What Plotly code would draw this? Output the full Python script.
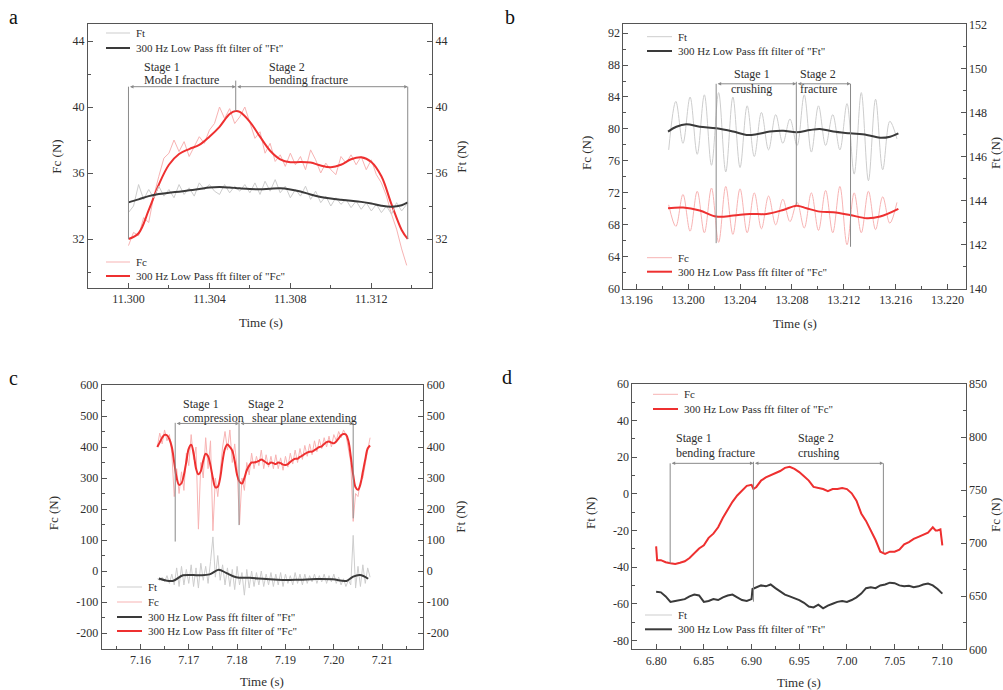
import plotly.graph_objects as go

W, H = 1003, 690
SERIF = "Liberation Serif"
TXT = "#2e2e2e"
AXC = "#555555"
RED = "#ee3030"
DARK = "#3a3a3a"
GRAY_RAW = "#cdcdcd"
PINK_RAW = "#f7b3b3"
ANN = "#8a8a8a"

# ---------------- Panel a ----------------
T_A_FILT = [11.3000, 11.3005, 11.3010, 11.3015, 11.3020, 11.3025, 11.3030, 11.3035, 11.3040, 11.3045,
            11.3050, 11.3053, 11.3055, 11.3060, 11.3065, 11.3070, 11.3075, 11.3080, 11.3085, 11.3090,
            11.3095, 11.3100, 11.3105, 11.3110, 11.3115, 11.3120, 11.3125, 11.3130, 11.3135, 11.3138]
FC_A_FILT = [32.0, 32.35, 33.75, 35.3, 36.5, 37.15, 37.45, 37.7, 38.2, 38.8,
             39.58, 39.76, 39.7, 39.1, 38.2, 37.35, 36.83, 36.65, 36.67, 36.63,
             36.45, 36.35, 36.5, 36.83, 36.95, 36.67, 35.8, 34.1, 32.55, 32.0]
FT_A_FILT = [34.22, 34.4, 34.6, 34.73, 34.8, 34.87, 34.95, 35.03, 35.12, 35.15,
             35.12, 35.09, 35.07, 35.03, 35.02, 35.05, 35.07, 35.0, 34.88, 34.7,
             34.55, 34.45, 34.38, 34.32, 34.25, 34.15, 34.02, 33.96, 34.05, 34.22]
T_A_RAW = [11.30000, 11.30025, 11.30050, 11.30075, 11.30100, 11.30125, 11.30150, 11.30175, 11.30200, 11.30225,
           11.30250, 11.30275, 11.30300, 11.30325, 11.30350, 11.30375, 11.30400, 11.30425, 11.30450, 11.30475,
           11.30500, 11.30525, 11.30550, 11.30575, 11.30600, 11.30625, 11.30650, 11.30675, 11.30700, 11.30725,
           11.30750, 11.30775, 11.30800, 11.30825, 11.30850, 11.30875, 11.30900, 11.30925, 11.30950, 11.30975,
           11.31000, 11.31025, 11.31050, 11.31075, 11.31100, 11.31125, 11.31150, 11.31175, 11.31200, 11.31225,
           11.31250, 11.31275, 11.31300, 11.31325, 11.31350, 11.31375]
FC_A_RAW = [31.6, 32.4, 32.2, 33.3, 33.0, 34.6, 35.8, 36.9, 37.2, 38.0,
            37.3, 37.9, 37.0, 37.6, 38.2, 37.8, 38.6, 39.0, 40.0, 39.3,
            39.9, 39.0, 39.4, 40.0, 39.0, 38.1, 38.5, 37.2, 37.8, 36.7,
            37.1, 36.4, 37.2, 36.5, 37.0, 36.2, 37.4, 36.8, 36.0, 36.6,
            36.2, 35.9, 37.0, 36.6, 37.1, 36.5, 37.0, 36.2, 36.8, 35.9,
            35.4, 34.6, 33.5, 32.6, 31.4, 30.4]
FT_A_RAW = [33.6, 34.0, 35.3, 34.4, 35.0, 34.5, 35.2, 34.6, 35.0, 34.5,
            35.3, 34.7, 35.1, 34.6, 35.4, 35.0, 35.3, 34.9, 34.7, 35.3,
            34.8, 35.2, 34.9, 35.3, 34.8, 35.4, 34.7, 35.5, 34.9, 35.6,
            34.8, 35.2, 34.5, 35.0, 34.6, 35.2, 34.4, 34.9, 34.2, 34.6,
            34.0, 34.5, 34.1, 34.4, 33.9, 34.3, 33.8, 34.2, 33.7, 34.1,
            33.6, 34.0, 33.5, 34.2, 33.7, 34.1]

# ---------------- Panel b ----------------
T_B_FT_FILT = [13.19845, 13.19909, 13.19986, 13.20089, 13.20218, 13.20347, 13.20450, 13.20527, 13.20630, 13.20733,
               13.20836, 13.20939, 13.21016, 13.21119, 13.21248, 13.21377, 13.21480, 13.21557, 13.21621]
FT_B_FILT = [147.13, 147.35, 147.46, 147.35, 147.28, 147.13, 146.98, 147.01, 147.13, 147.17,
             147.10, 147.20, 147.25, 147.13, 147.05, 146.98, 146.85, 146.90, 147.05]
T_B_FC_FILT = [13.19845, 13.19961, 13.20089, 13.20218, 13.20347, 13.20476, 13.20604, 13.20733, 13.20836, 13.20913,
               13.21016, 13.21119, 13.21248, 13.21377, 13.21480, 13.21621]
FC_B_FILT = [70.07, 70.15, 69.78, 69.03, 69.15, 69.36, 69.36, 69.86, 70.40, 70.07,
             69.65, 69.57, 69.23, 68.82, 69.03, 69.99]
T_B_RAW = [13.19850, 13.19905, 13.19960, 13.20015, 13.20070, 13.20125, 13.20180, 13.20235, 13.20290, 13.20345,
           13.20400, 13.20455, 13.20510, 13.20565, 13.20620, 13.20675, 13.20730, 13.20785, 13.20840, 13.20895,
           13.20950, 13.21005, 13.21060, 13.21115, 13.21170, 13.21225, 13.21280, 13.21335, 13.21390, 13.21445,
           13.21500, 13.21555, 13.21610]
FT_B_RAW = [146.3, 148.5, 146.6, 148.7, 146.1, 148.8, 145.6, 148.9, 145.3, 148.7,
            145.5, 148.3, 146.0, 148.0, 146.3, 147.9, 146.6, 147.7, 146.5, 148.8,
            146.2, 148.3, 146.5, 147.9, 146.3, 148.4, 145.2, 148.9, 144.9, 148.6,
            145.4, 147.6, 146.8]
FC_B_RAW = [70.5, 67.8, 71.8, 67.2, 72.2, 67.0, 72.6, 65.8, 72.8, 66.8,
            72.5, 67.0, 72.0, 67.5, 71.6, 68.0, 71.2, 68.4, 70.8, 67.6,
            72.0, 67.3, 72.3, 67.0, 72.8, 65.5, 72.0, 67.0, 72.2, 67.4,
            71.5, 68.2, 70.8]

# ---------------- Panel c ----------------
T_C = [7.1635, 7.1640, 7.1645, 7.1650, 7.1655, 7.1660, 7.1665, 7.1670, 7.1675, 7.1680,
       7.1685, 7.1690, 7.1695, 7.1700, 7.1705, 7.1710, 7.1715, 7.1720, 7.1725, 7.1730,
       7.1735, 7.1740, 7.1745, 7.1750, 7.1755, 7.1760, 7.1765, 7.1770, 7.1775, 7.1780,
       7.1785, 7.1790, 7.1795, 7.1800, 7.1805, 7.1810, 7.1815, 7.1820, 7.1825, 7.1830,
       7.1835, 7.1840, 7.1845, 7.1850, 7.1855, 7.1860, 7.1865, 7.1870, 7.1875, 7.1880,
       7.1885, 7.1890, 7.1895, 7.1900, 7.1905, 7.1910, 7.1915, 7.1920, 7.1925, 7.1930,
       7.1935, 7.1940, 7.1945, 7.1950, 7.1955, 7.1960, 7.1965, 7.1970, 7.1975, 7.1980,
       7.1985, 7.1990, 7.1995, 7.2000, 7.2005, 7.2010, 7.2015, 7.2020, 7.2025, 7.2030,
       7.2035, 7.2040, 7.2045, 7.2050, 7.2055, 7.2060, 7.2065, 7.2070, 7.2075]
FC_C_FILT = [400, 415, 430, 439, 438, 425, 400, 350, 300, 278,
             283, 310, 353, 395, 407, 380, 331, 312, 322, 356,
             378, 370, 340, 299, 270, 272, 300, 355, 395, 408,
             400, 388, 355, 310, 288, 282, 300, 325, 340, 350,
             350, 352, 355, 360, 355, 350, 345, 350, 348, 345,
             350, 348, 343, 342, 345, 352, 358, 362, 362, 368,
             372, 378, 382, 385, 385, 390, 395, 400, 402, 410,
             416, 418, 414, 412, 418, 428, 438, 442, 440, 420,
             370, 310, 270, 262, 280, 320, 360, 395, 405]
FC_C_RAW = [400, 445, 410, 455, 420, 440, 380, 240, 330, 250,
            320, 260, 380, 340, 440, 360, 400, 135, 350, 300,
            430, 330, 420, 130, 300, 240, 320, 400, 450, 390,
            455, 350, 410, 330, 150, 300, 260, 350, 310, 380,
            330, 370, 340, 390, 330, 375, 335, 370, 330, 375,
            330, 365, 325, 370, 335, 380, 345, 390, 350, 395,
            360, 405, 370, 410, 375, 420, 385, 425, 395, 430,
            400, 435, 400, 440, 420, 450, 430, 455, 440, 400,
            350, 160, 250, 240, 290, 300, 350, 390, 430]
FT_C_RAW = [-25, -30, -20, -35, -15, -40, -10, -45, 10, -50,
            15, -45, 5, -40, 20, -50, 10, -55, 25, -30,
            15, -40, 30, 110, -20, 50, -30, 20, -45, 10,
            -50, 5, -60, 15, -45, -5, -78, 5, -55, 0,
            -50, -5, -45, 0, -50, -10, -45, -5, -50, -10,
            -45, -5, -50, -10, -40, -15, -45, -5, -40, -10,
            -45, -10, -40, -15, -35, -10, -40, -15, -35, -10,
            -40, -15, -35, -10, -40, -20, -45, -25, -50, -30,
            -45, 115, -55, 15, -50, 20, -40, 10, -20]
T_C_FT_FILT = [7.1638, 7.1667, 7.1688, 7.1722, 7.1743, 7.1762, 7.1777, 7.1798, 7.1826, 7.1860,
               7.1895, 7.1929, 7.1964, 7.1998, 7.2026, 7.2040, 7.2054, 7.2071]
FT_C_FILT = [-24, -32, -14, -14, -11, 4, -6, -20, -22, -26,
             -29, -28, -26, -27, -32, -18, -13, -25]

# ---------------- Panel d ----------------
T_D_FC = [6.800, 6.801, 6.805, 6.810, 6.815, 6.820, 6.825, 6.830, 6.835, 6.840,
          6.845, 6.850, 6.855, 6.860, 6.865, 6.870, 6.875, 6.880, 6.885, 6.890,
          6.895, 6.900, 6.902, 6.905, 6.910, 6.915, 6.920, 6.925, 6.930, 6.935,
          6.940, 6.945, 6.950, 6.955, 6.960, 6.965, 6.970, 6.975, 6.980, 6.985,
          6.990, 6.995, 7.000, 7.005, 7.010, 7.015, 7.020, 7.025, 7.030, 7.035,
          7.040, 7.045, 7.050, 7.055, 7.060, 7.065, 7.070, 7.075, 7.080, 7.085,
          7.090, 7.093, 7.095, 7.098, 7.100]
FC_D = [697, 684, 684, 682, 681, 680.5, 681.5, 683, 686, 691,
        695, 698, 705, 709, 715, 724, 732, 739, 745, 750,
        754, 755, 751, 753, 759, 762, 764, 765.5, 768, 771,
        772, 770, 767, 763, 759, 753, 752, 751, 749, 751,
        751, 752, 751, 747, 740, 728, 721, 712, 703, 692,
        690, 692, 692, 694, 699, 701, 704, 706, 708, 710,
        715, 712, 712, 713, 698]
T_D_FT = [6.800, 6.805, 6.810, 6.815, 6.820, 6.825, 6.830, 6.835, 6.840, 6.845,
          6.850, 6.855, 6.860, 6.865, 6.870, 6.875, 6.880, 6.885, 6.890, 6.895,
          6.900, 6.901, 6.905, 6.910, 6.915, 6.920, 6.925, 6.930, 6.935, 6.940,
          6.945, 6.950, 6.955, 6.960, 6.965, 6.970, 6.975, 6.980, 6.985, 6.990,
          6.995, 7.000, 7.005, 7.010, 7.015, 7.020, 7.025, 7.030, 7.035, 7.040,
          7.045, 7.050, 7.055, 7.060, 7.065, 7.070, 7.075, 7.080, 7.085, 7.090,
          7.095, 7.100]
FT_D = [-53.5, -53.8, -56, -59, -58.5, -58, -57.5, -56, -55, -55.5,
        -59, -58.5, -57.5, -58, -56.5, -55.5, -55, -56.5, -58, -58.5,
        -57.5, -52, -51, -50, -50.5, -49.5, -51.5, -53.5, -55, -56,
        -57, -58, -59.5, -61.5, -62, -60.5, -62.5, -61, -60, -59,
        -58.5, -59, -58, -56.5, -54.5, -51.5, -51, -51.5, -50, -49.5,
        -48.5, -48.8, -50, -50.5, -50.2, -51, -50.5, -49.5, -49, -50,
        -52, -54.5]

LEG_FT = "Ft"
LEG_FC = "Fc"
LEG_FT_F = '300 Hz Low Pass fft filter of "Ft"'
LEG_FC_F = '300 Hz Low Pass fft filter of "Fc"'

fig = go.Figure()


def add(x, y, xa, ya, color, width, name, shape="spline"):
    fig.add_trace(go.Scatter(x=x, y=y, xaxis=xa, yaxis=ya, mode="lines", name=name,
                             line=dict(color=color, width=width, shape=shape),
                             showlegend=False, hoverinfo="skip"))


# a
add(T_A_RAW, FC_A_RAW, "x", "y", PINK_RAW, 1, LEG_FC, "linear")
add(T_A_RAW, FT_A_RAW, "x", "y2", GRAY_RAW, 1, LEG_FT, "linear")
add(T_A_FILT, FT_A_FILT, "x", "y2", DARK, 2, LEG_FT_F)
add(T_A_FILT, FC_A_FILT, "x", "y", RED, 2, LEG_FC_F)
# b
add(T_B_RAW, FC_B_RAW, "x2", "y3", PINK_RAW, 1, LEG_FC)
add(T_B_FC_FILT, FC_B_FILT, "x2", "y3", RED, 2, LEG_FC_F)
add(T_B_RAW, FT_B_RAW, "x2", "y4", GRAY_RAW, 1, LEG_FT)
add(T_B_FT_FILT, FT_B_FILT, "x2", "y4", DARK, 2, LEG_FT_F)
# c
add(T_C, FC_C_RAW, "x3", "y5", PINK_RAW, 1, LEG_FC, "linear")
add(T_C, FC_C_FILT, "x3", "y5", RED, 2, LEG_FC_F)
add(T_C, FT_C_RAW, "x3", "y6", GRAY_RAW, 1, LEG_FT, "linear")
add(T_C_FT_FILT, FT_C_FILT, "x3", "y6", DARK, 2, LEG_FT_F)
# d
add(T_D_FT, FT_D, "x4", "y7", GRAY_RAW, 1, LEG_FT, "linear")
add(T_D_FT, FT_D, "x4", "y7", DARK, 2, LEG_FT_F, "linear")
add(T_D_FC, FC_D, "x4", "y8", PINK_RAW, 1, LEG_FC, "linear")
add(T_D_FC, FC_D, "x4", "y8", RED, 2, LEG_FC_F, "linear")

TICKFONT = dict(family=SERIF, size=12, color=TXT)


def px(x):
    return x / W


def py(y):
    return 1 - y / H


def xaxis(dom, anchor, rng, tick0, dtick, fmt, mdtick):
    return dict(domain=dom, anchor=anchor, range=rng, tick0=tick0, dtick=dtick, tickformat=fmt,
                showline=True, mirror=True, linecolor=AXC, linewidth=1, ticks="inside", ticklen=5,
                tickcolor=AXC, tickfont=TICKFONT, showgrid=False, zeroline=False, automargin=False,
                minor=dict(tick0=tick0, dtick=mdtick, ticks="inside", ticklen=3, tickcolor=AXC, showgrid=False))


def yaxis(dom, anchor, rng, vals, mtick0, mdtick, side="left", overlay=None):
    d = dict(domain=dom, anchor=anchor, range=rng, tickmode="array", tickvals=vals,
             ticktext=[("-" + str(abs(v))) if v < 0 else str(v) for v in vals],
             showline=True, mirror=False, linecolor=AXC, linewidth=1, ticks="inside", ticklen=5,
             tickcolor=AXC, tickfont=TICKFONT, showgrid=False, zeroline=False, automargin=False,
             side=side,
             minor=dict(tick0=mtick0, dtick=mdtick, ticks="inside", ticklen=3, tickcolor=AXC, showgrid=False))
    if overlay:
        d["overlaying"] = overlay
    return d


XA = [px(88), px(432)]
YA = [py(288), py(24)]
XB = [px(623.3), px(965.7)]
YB = [py(288.7), py(24.3)]
XC = [px(101.7), px(423.3)]
YC = [py(649), py(385)]
XD = [px(632.3), px(965.7)]
YD = [py(649.3), py(384)]

fig.update_layout(
    width=W, height=H, margin=dict(l=0, r=0, t=0, b=0),
    paper_bgcolor="white", plot_bgcolor="white", hovermode=False, showlegend=False,
    font=dict(family=SERIF, color=TXT),
    xaxis=xaxis(XA, "y", [11.298, 11.315], 11.300, 0.004, ".3f", 0.002),
    yaxis=yaxis(YA, "x", [29.03, 45.03], [32, 36, 40, 44], 30, 2),
    yaxis2=yaxis(YA, "x", [29.03, 45.03], [32, 36, 40, 44], 30, 2, "right", "y"),
    xaxis2=xaxis(XB, "y3", [13.195, 13.2214], 13.196, 0.004, ".3f", 0.002),
    yaxis3=yaxis(YB, "x2", [60, 93.1], [60, 64, 68, 72, 76, 80, 84, 88, 92], 62, 2),
    yaxis4=yaxis(YB, "x2", [140, 152], [140, 142, 144, 146, 148, 150, 152], 141, 1, "right", "y3"),
    xaxis3=xaxis(XC, "y5", [7.152, 7.2185], 7.16, 0.01, ".2f", 0.005),
    yaxis5=yaxis(YC, "x3", [-251.6, 600], [-200, -100, 0, 100, 200, 300, 400, 500, 600], -250, 50),
    yaxis6=yaxis(YC, "x3", [-251.6, 600], [-200, -100, 0, 100, 200, 300, 400, 500, 600], -250, 50, "right", "y5"),
    xaxis4=xaxis(XD, "y7", [6.775, 7.1245], 6.80, 0.05, ".2f", 0.025),
    yaxis7=yaxis(YD, "x4", [-84.9, 60], [-80, -60, -40, -20, 0, 20, 40, 60], -70, 10),
    yaxis8=yaxis(YD, "x4", [600, 850], [600, 650, 700, 750, 800, 850], 625, 25, "right", "y7"),
)

shapes = []
annos = []


def vline(xr, yr, x, y0, y1):
    shapes.append(dict(type="line", xref=xr, yref=yr, x0=x, x1=x, y0=y0, y1=y1,
                       line=dict(color=ANN, width=1)))


def harrow(xr, yr, xa, xb, y):
    annos.append(dict(xref=xr, yref=yr, axref=xr, ayref=yr, x=xb, y=y, ax=xa, ay=y, text="",
                      showarrow=True, arrowhead=2, arrowside="end+start", arrowsize=0.7,
                      arrowwidth=1, arrowcolor=ANN, standoff=0, startstandoff=0))


def dtext(xr, yr, x, y, s, anchor="left"):
    annos.append(dict(xref=xr, yref=yr, x=x, y=y, text=s, showarrow=False, xanchor=anchor,
                      yanchor="middle", font=dict(family=SERIF, size=12, color=TXT)))


# a stages
vline("x", "y", 11.3000, 32.0, 41.23)
vline("x", "y", 11.3053, 39.76, 41.6)
vline("x", "y", 11.3138, 32.0, 41.23)
harrow("x", "y", 11.3000, 11.3053, 41.23)
harrow("x", "y", 11.3053, 11.3138, 41.23)
dtext("x", "y", 11.30066, 42.44, "Stage 1")
dtext("x", "y", 11.30066, 41.64, "Mode I fracture")
dtext("x", "y", 11.30687, 42.44, "Stage 2")
dtext("x", "y", 11.30687, 41.64, "bending fracture")

# b stages
vline("x2", "y3", 13.20216, 65.7, 85.65)
vline("x2", "y3", 13.20834, 70.5, 85.9)
vline("x2", "y3", 13.21252, 65.25, 85.65)
harrow("x2", "y3", 13.20216, 13.20834, 85.65)
harrow("x2", "y3", 13.20834, 13.21252, 85.65)
dtext("x2", "y3", 13.20492, 86.85, "Stage 1", "center")
dtext("x2", "y3", 13.20492, 85.05, "crushing", "center")
dtext("x2", "y3", 13.21004, 86.85, "Stage 2", "center")
dtext("x2", "y3", 13.21004, 85.05, "fracture", "center")

# c stages
vline("x3", "y5", 7.1672, 95, 478)
vline("x3", "y5", 7.1804, 148, 482)
vline("x3", "y5", 7.2040, 170, 478)
harrow("x3", "y5", 7.1672, 7.1804, 476)
harrow("x3", "y5", 7.1804, 7.2040, 476)
dtext("x3", "y5", 7.1683, 538, "Stage 1")
dtext("x3", "y5", 7.1683, 495, "compression")
dtext("x3", "y5", 7.1819, 538, "Stage 2")
dtext("x3", "y5", 7.1826, 495, "shear plane extending")

# d stages
vline("x4", "y7", 6.8147, -37.9, 16.67)
vline("x4", "y7", 6.9020, -58.9, 17.5)
vline("x4", "y7", 7.0382, -31.9, 16.67)
harrow("x4", "y7", 6.8147, 6.9020, 16.67)
harrow("x4", "y7", 6.9020, 7.0382, 16.67)
dtext("x4", "y7", 6.8182, 30.3, "Stage 1")
dtext("x4", "y7", 6.8182, 22.1, "bending fracture")
dtext("x4", "y7", 6.9467, 30.3, "Stage 2")
dtext("x4", "y7", 6.9467, 22.1, "crushing")

# manual legends: (line x0 px, line x1 px, y px, colour, width, label)
LEGENDS = [
    (106, 130, 33, GRAY_RAW, 1, LEG_FT), (106, 130, 48, DARK, 2, LEG_FT_F),
    (106, 130, 262, PINK_RAW, 1, LEG_FC), (106, 130, 276, RED, 2, LEG_FC_F),
    (647, 672, 36.7, GRAY_RAW, 1, LEG_FT), (647, 672, 51, DARK, 2, LEG_FT_F),
    (647, 672, 257.7, PINK_RAW, 1, LEG_FC), (647, 672, 271.7, RED, 2, LEG_FC_F),
    (117, 142, 587, GRAY_RAW, 1, LEG_FT), (117, 142, 602, PINK_RAW, 1, LEG_FC),
    (117, 142, 617, DARK, 2, LEG_FT_F), (117, 142, 631, RED, 2, LEG_FC_F),
    (653, 678, 394.3, PINK_RAW, 1, LEG_FC), (653, 678, 409, RED, 2, LEG_FC_F),
    (645, 672, 615, GRAY_RAW, 1, LEG_FT), (645, 672, 629.3, DARK, 2, LEG_FT_F),
]
for x0, x1, y, col, wd, lab in LEGENDS:
    shapes.append(dict(type="line", xref="paper", yref="paper", x0=px(x0), x1=px(x1),
                       y0=py(y), y1=py(y), line=dict(color=col, width=wd)))
    annos.append(dict(xref="paper", yref="paper", x=px(x1 + 4), y=py(y), text=lab, showarrow=False,
                      xanchor="left", yanchor="middle", font=dict(family=SERIF, size=11, color=TXT)))

# axis titles and panel letters (paper px positions)
TITLES = [
    (260.7, 322, "Time (s)", 0), (56.7, 157, "Fc (N)", -90), (461.7, 157, "Ft (N)", -90),
    (795, 324, "Time (s)", 0), (586, 153, "Fc (N)", -90), (995, 153, "Ft (N)", -90),
    (262.3, 681.7, "Time (s)", 0), (53.3, 513, "Fc (N)", -90), (461, 516.7, "Ft (N)", -90),
    (799, 682.3, "Time (s)", 0), (590, 513, "Ft (N)", -90), (995, 515, "Fc (N)", -90),
]
for x, y, s, ang in TITLES:
    annos.append(dict(xref="paper", yref="paper", x=px(x), y=py(y), text=s, showarrow=False,
                      xanchor="center", yanchor="middle", textangle=ang,
                      font=dict(family=SERIF, size=13, color=TXT)))

for x, y, s in [(13.3, 17.3, "a"), (510, 16.7, "b"), (13.3, 378.3, "c"), (507.3, 376.7, "d")]:
    annos.append(dict(xref="paper", yref="paper", x=px(x), y=py(y), text=s, showarrow=False,
                      xanchor="center", yanchor="middle", font=dict(family=SERIF, size=20, color="#111")))

fig.update_layout(shapes=shapes, annotations=annos)
fig.write_html("out.html", config={"displayModeBar": False, "staticPlot": True},
               post_script="document.body.style.margin='0';document.body.style.overflow='hidden';")
